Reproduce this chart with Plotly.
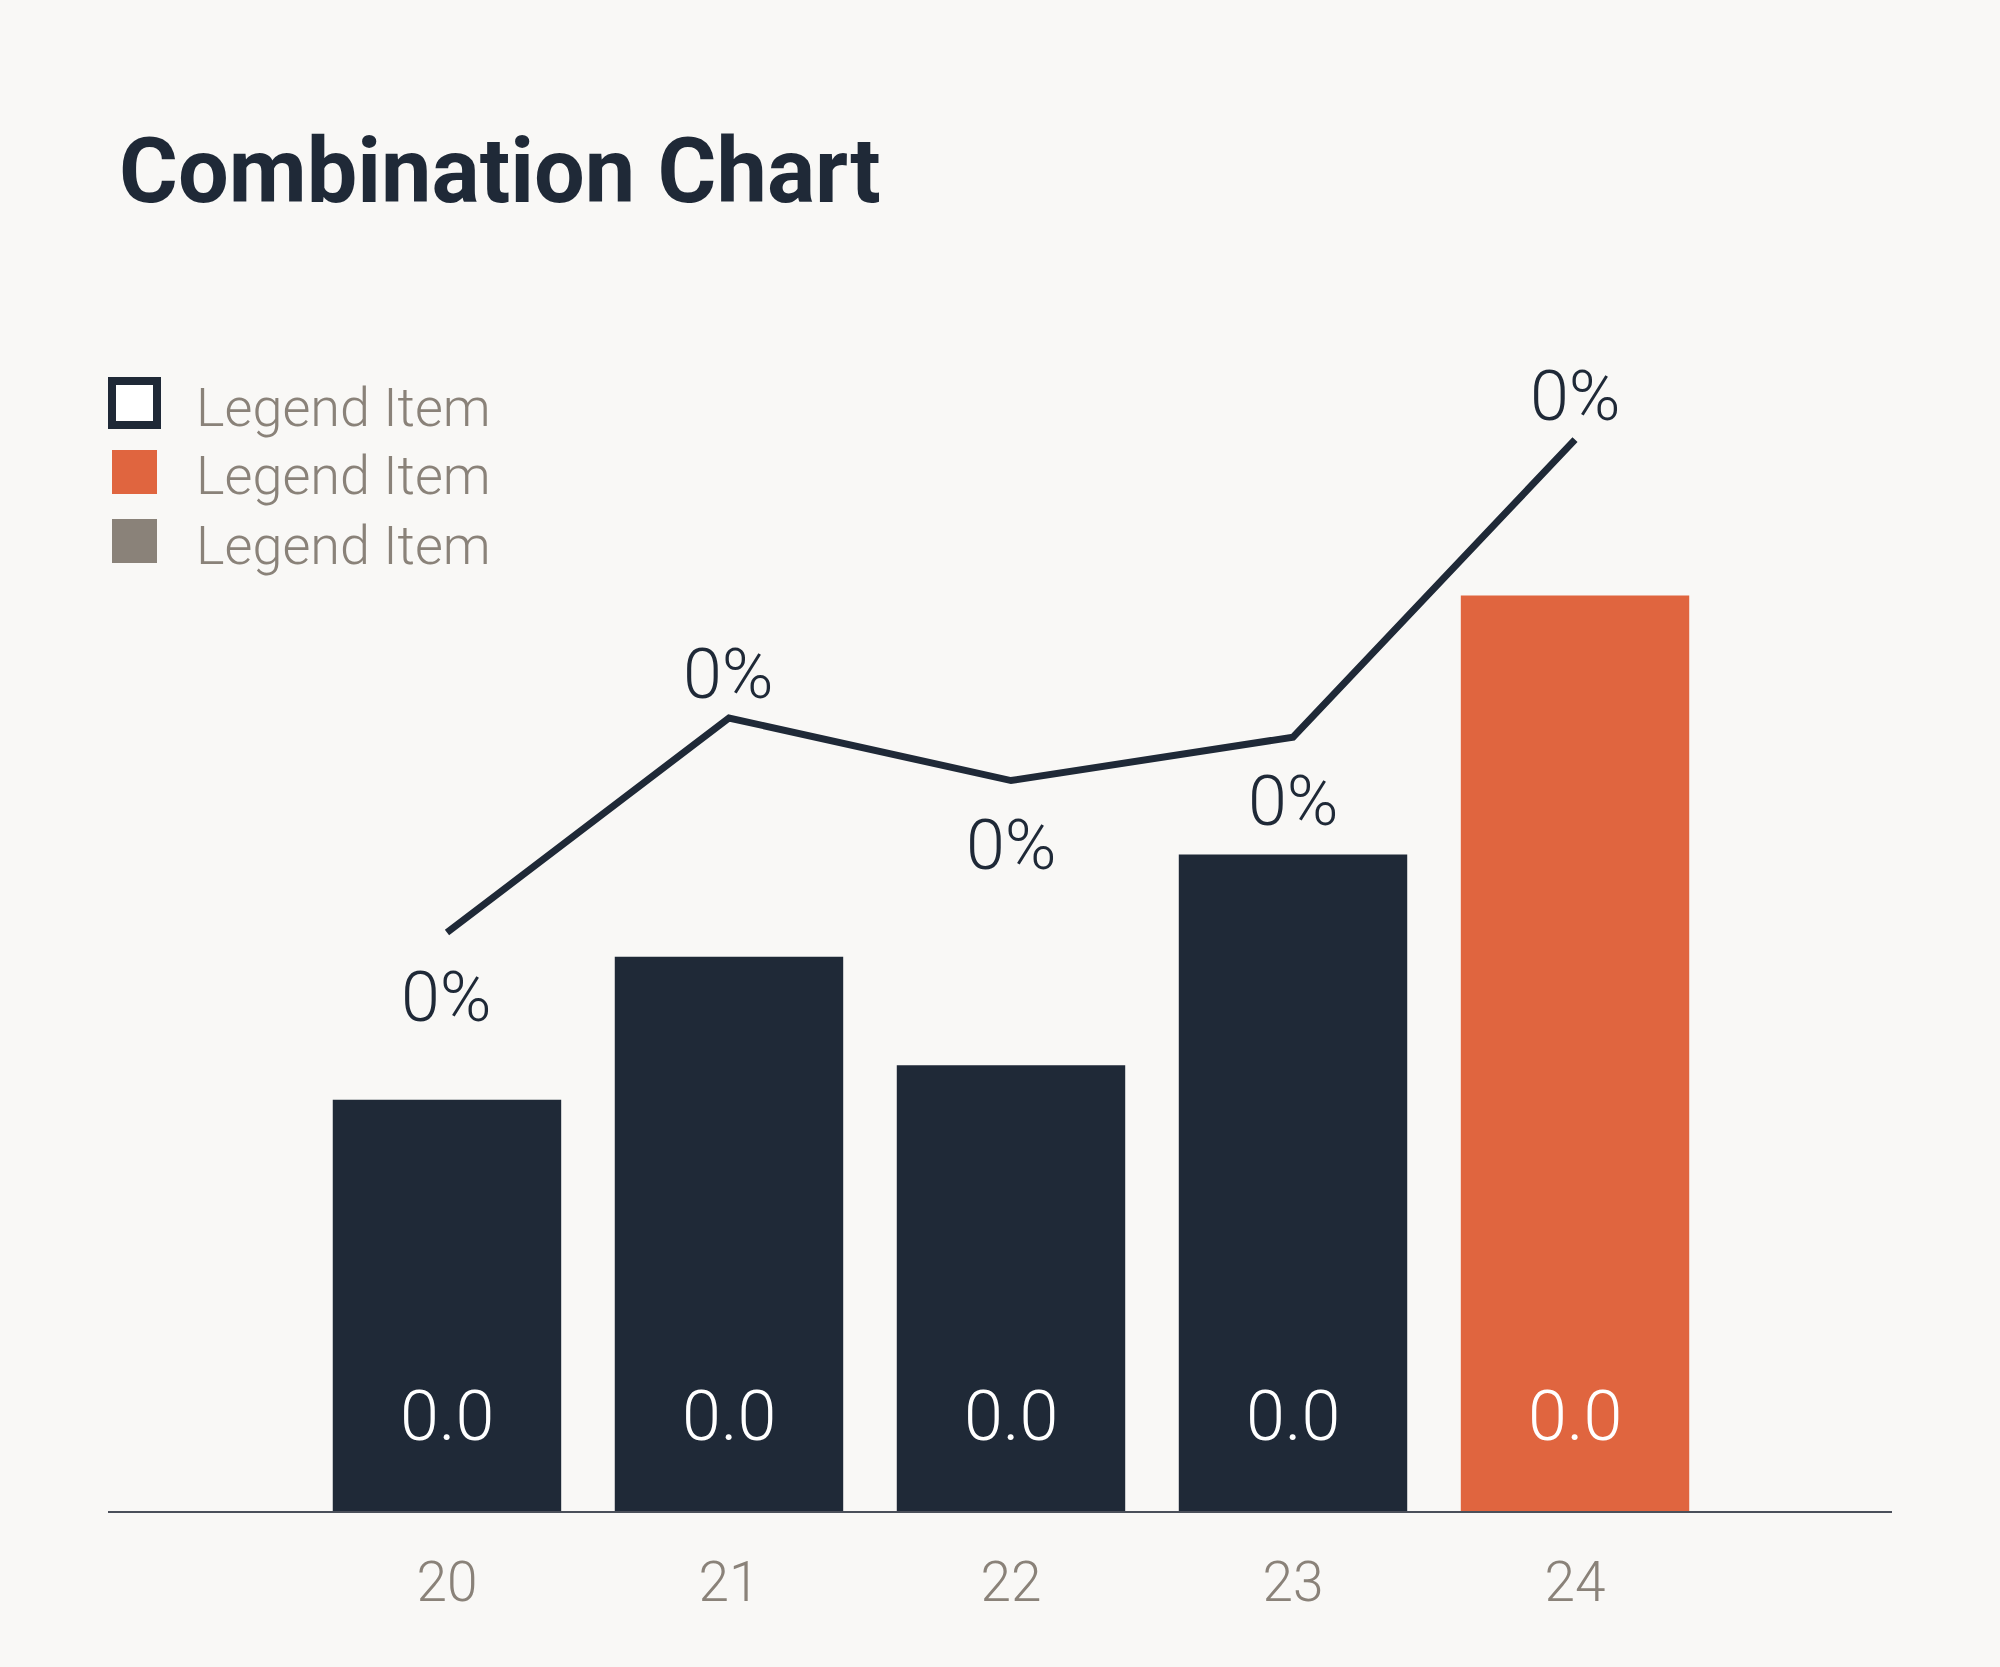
# Combination chart: bars + line, hand-made legend block
import plotly.graph_objects as go

# ── DATA ────────────────────────────────────────────────────
categories   = ["20", "21", "22", "23", "24"]
bar_values   = [32.2, 43.4, 34.9, 51.4, 71.7]
line_values  = [45.3, 62.1, 57.2, 60.6, 83.9]
bar_labels   = ["0.0", "0.0", "0.0", "0.0", "0.0"]
line_labels  = ["0%", "0%", "0%", "0%", "0%"]
legend_names = ["Legend Item", "Legend Item", "Legend Item"]

# ── STYLE ───────────────────────────────────────────────────
NAVY   = "#1f2937"
ORANGE = "#e0653f"
GREY   = "#8a8279"
BG     = "#f9f8f6"
FONT   = "Roboto"

W, H = 2000, 1667
L, R, T, B = 108, 108, 234, 156
PW, PH = W - L - R, H - T - B

bar_colors = [NAVY, NAVY, NAVY, NAVY, ORANGE]
label_side = ["below", "above", "below", "below", "above"]   # where each % label sits


def px_x(px):
    return (px - L) / PW


def px_y(py):
    return (H - B - py) / PH


fig = go.Figure()
fig.add_trace(go.Bar(
    x=categories, y=bar_values, width=0.81,
    marker=dict(color=bar_colors, line=dict(width=0)),
    showlegend=False, hoverinfo="skip"
))
fig.add_trace(go.Scatter(
    x=categories, y=line_values, mode="lines",
    line=dict(color=NAVY, width=7),
    showlegend=False, hoverinfo="skip"
))

# category axis annotations take the serial index, not the label
annotations = []
for i, txt in enumerate(bar_labels):
    annotations.append(dict(
        x=i, y=0, xref="x", yref="y", text=txt, showarrow=False,
        yshift=95, yanchor="middle", xanchor="center",
        font=dict(family=FONT, size=70, color="white", weight=300)
    ))
for i, (val, txt, side) in enumerate(zip(line_values, line_labels, label_side)):
    annotations.append(dict(
        x=i, y=val, xref="x", yref="y", text=txt, showarrow=False,
        yshift=44 if side == "above" else -64, yanchor="middle", xanchor="center",
        font=dict(family=FONT, size=70, color=NAVY, weight=300)
    ))

# legend: three swatches + labels
swatch_fill = ["white", ORANGE, GREY]
swatch_tops = [381, 450, 519]
shapes = []
for i, (name, fill, top) in enumerate(zip(legend_names, swatch_fill, swatch_tops)):
    shapes.append(dict(
        type="rect", xref="paper", yref="paper",
        x0=px_x(112), x1=px_x(157), y0=px_y(top + 44), y1=px_y(top),
        fillcolor=fill,
        line=dict(color=NAVY, width=8) if i == 0 else dict(width=0)
    ))
    annotations.append(dict(
        x=px_x(194), y=px_y(top + 26), xref="paper", yref="paper",
        text=name, showarrow=False, xanchor="left", yanchor="middle",
        font=dict(family=FONT, size=54, color=GREY, weight=300)
    ))

fig.update_layout(
    width=W, height=H,
    margin=dict(l=L, r=R, t=T, b=B),
    paper_bgcolor=BG, plot_bgcolor=BG,
    title=dict(
        text="<b>Combination Chart</b>",
        x=119 / W, xref="container", xanchor="left",
        y=1 - 170 / H, yref="container", yanchor="middle",
        font=dict(family=FONT, size=90, color=NAVY)
    ),
    xaxis=dict(
        type="category", range=[-1.202, 5.124],
        showline=True, linecolor="#4b505a", linewidth=2,
        showgrid=False, zeroline=False, ticks="",
        ticklabelstandoff=22,
        tickfont=dict(family=FONT, size=55, color=GREY, weight=300)
    ),
    yaxis=dict(range=[0, 100], visible=False, showgrid=False, zeroline=False),
    annotations=annotations,
    shapes=shapes,
    bargap=0.19,
    showlegend=False
)

fig.write_html("out.html", config={"displayModeBar": False},
               post_script="document.body.style.margin='0';")
